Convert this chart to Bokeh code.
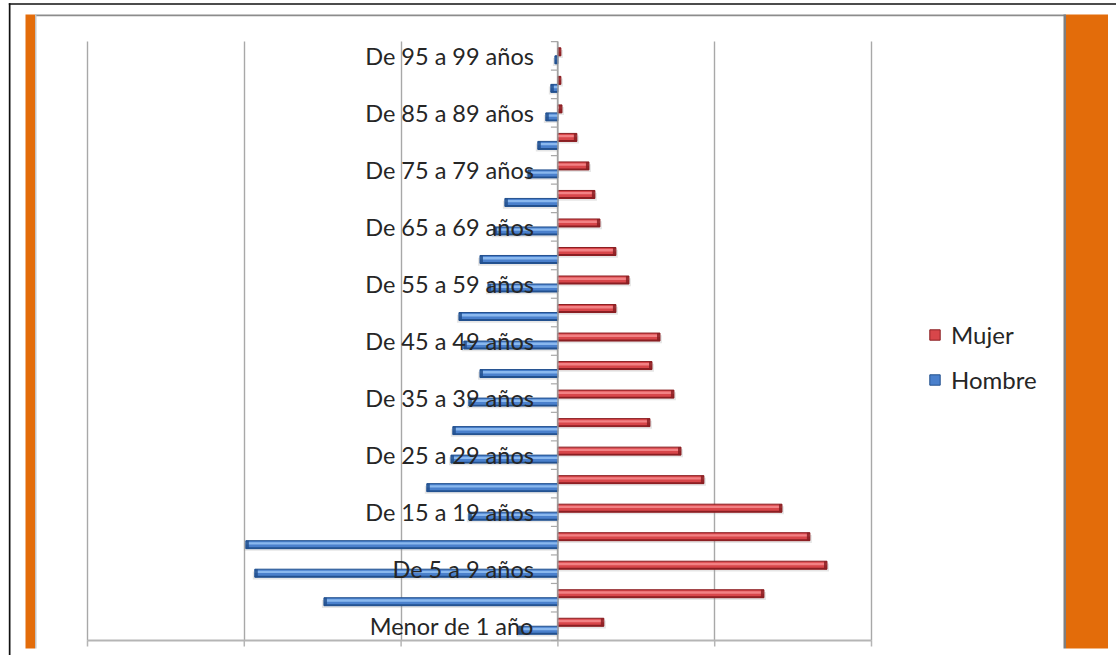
from bokeh.plotting import figure
from bokeh.models import (Range1d, FixedTicker, BoxAnnotation, Legend, LegendItem,
                          ColumnDataSource)
from bokeh.core.properties import value
from bokeh.embed import file_html
from bokeh.resources import INLINE

# ---------------- data ----------------
age_groups = ["Menor de 1 año", "De 1 a 4 años", "De 5 a 9 años", "De 10 a 14 años",
              "De 15 a 19 años", "De 20 a 24 años", "De 25 a 29 años", "De 30 a 34 años",
              "De 35 a 39 años", "De 40 a 44 años", "De 45 a 49 años", "De 50 a 54 años",
              "De 55 a 59 años", "De 60 a 64 años", "De 65 a 69 años", "De 70 a 74 años",
              "De 75 a 79 años", "De 80 a 84 años", "De 85 a 89 años", "De 90 a 94 años",
              "De 95 a 99 años"]
mujer = [293, 1314, 1716, 1607, 1429, 931, 785, 587, 740, 600, 651,
         370, 453, 370, 268, 236, 198, 121, 26, 19, 19]
hombre = [249, 1492, 1933, 1990, 568, 836, 682, 670, 568, 497, 600,
          631, 446, 497, 408, 338, 191, 128, 77, 45, 19]
x_ticks = [-3000, -2000, -1000, 0, 1000, 2000]
series_names = ["Mujer", "Hombre"]

# ---------------- geometry (canvas pixels) ----------------
W, H = 1116, 655
CX = 557.4            # canvas x of value 0
PX = 0.1568           # pixels per unit
BASE = 640            # canvas y of the category axis base
ROW = 28.52           # pixels per category


def dx(cx):
    return (cx - CX) / PX


def dy(cy):
    return (BASE - cy) / ROW


p = figure(width=W, height=H, output_backend="svg", toolbar_location=None,
           x_range=Range1d(dx(0), dx(W)), y_range=Range1d(dy(H), dy(0)),
           y_axis_location=None, x_axis_location=None,
           min_border_left=0, min_border_right=0, min_border_top=0, min_border_bottom=0)
p.outline_line_color = None
p.background_fill_color = "white"
p.border_fill_color = "white"

# vertical value grid
n = len(age_groups)
p.ygrid.visible = False
p.xgrid.ticker = FixedTicker(ticks=x_ticks)
p.xgrid.grid_line_color = "#a8a8a8"
p.xgrid.grid_line_width = 1.4
try:
    p.xgrid.cross_bounds = (0, n)
    grid_ok = True
except Exception:
    grid_ok = False
if not grid_ok:
    p.xgrid.visible = False
    p.segment(x0=x_ticks, x1=x_ticks, y0=[0] * len(x_ticks), y1=[n] * len(x_ticks),
              line_color="#a8a8a8", line_width=1.4)


# ---------------- decorations ----------------
def box(l, r, t, b, color):
    p.add_layout(BoxAnnotation(left=dx(l), right=dx(r), top=dy(t), bottom=dy(b),
                               fill_color=color, fill_alpha=1, line_color=None,
                               level="underlay"))


box(8.3, 10, 2.7, H, "#111111")       # black left border
box(8.3, W, 2.7, 4.3, "#111111")      # black top border
box(25, 34.5, 14, 648, "#e36c0a")     # left orange band
box(1065.5, 1107.5, 14, 648, "#e36c0a")  # right orange band
box(34.5, 1065.5, 14, 15.7, "#8c8c8c")   # panel top line
box(34.5, 36, 14, 648, "#c4c4c4")     # panel left line
box(1063, 1065.5, 14, 648, "#7f7f7f") # panel right line

# value axis at the bottom (line + outward ticks)
p.segment(x0=[min(x_ticks)], x1=[max(x_ticks)], y0=[0], y1=[0],
          line_color="#b5b5b5", line_width=2)
p.segment(x0=x_ticks, x1=x_ticks, y0=[0] * len(x_ticks), y1=[-6 / ROW] * len(x_ticks),
          line_color="#b5b5b5", line_width=1.5)

# ---------------- bars ----------------
BH = 0.28
cap = 3 / PX
sh = 2.2 / ROW
centers = [i + 0.5 for i in range(n)]
neg_h = [-v for v in hombre]
zeros = [0] * n

red = dict(base="#d8464a", hi="#f28184", dark="#8a1e22")
blue = dict(base="#4a80cc", hi="#8ab8ee", dark="#22508e")

ym = [c + BH / 2 for c in centers]
yh = [c - BH / 2 for c in centers]

# soft shadows
p.hbar(y=[y - sh for y in ym], left=zeros, right=[v + 2 / PX for v in mujer], height=BH,
       fill_color="#9a9a9a", fill_alpha=0.25, line_color=None)
p.hbar(y=[y - sh for y in yh], left=[v - 2 / PX for v in neg_h], right=zeros, height=BH,
       fill_color="#9a9a9a", fill_alpha=0.25, line_color=None)

src_m = ColumnDataSource(dict(y=ym, left=zeros, right=mujer))
src_h = ColumnDataSource(dict(y=yh, left=neg_h, right=zeros))
main_m = p.hbar(y="y", left="left", right="right", height=BH, source=src_m,
                fill_color=red["base"], line_color=red["dark"], line_width=1)
main_h = p.hbar(y="y", left="left", right="right", height=BH, source=src_h,
                fill_color=blue["base"], line_color=blue["dark"], line_width=1)

# highlight & dark edge stripes
for ys, lft, rgt, col in ((ym, zeros, mujer, red), (yh, neg_h, zeros, blue)):
    p.hbar(y=[y + BH * 0.16 for y in ys], left=lft, right=rgt, height=BH * 0.3,
           fill_color=col["hi"], line_color=None)
    p.hbar(y=[y - BH * 0.41 for y in ys], left=lft, right=rgt, height=BH * 0.18,
           fill_color=col["dark"], line_color=None)

# dark end caps
p.hbar(y=ym, left=[max(v - cap, 0) for v in mujer], right=mujer, height=BH,
       fill_color=red["dark"], fill_alpha=0.85, line_color=None)
p.hbar(y=yh, left=neg_h, right=[min(v + cap, 0) for v in neg_h], height=BH,
       fill_color=blue["dark"], fill_alpha=0.85, line_color=None)

# category axis at zero with boundary ticks
bounds = list(range(n + 1))
p.segment(x0=[0], x1=[0], y0=[0], y1=[n], line_color="#a0a0a0", line_width=1.3)
p.segment(x0=[-7 / PX] * len(bounds), x1=[0] * len(bounds), y0=bounds, y1=bounds,
          line_color="#a8a8a8", line_width=1.2)

# category labels (every other one, as in the original)
lab_y = [i + 0.5 for i in range(0, n, 2)]
lab_t = [age_groups[i] for i in range(0, n, 2)]
p.text(x=[0] * len(lab_y), y=lab_y, text=lab_t, x_offset=-24,
       text_align="right", text_baseline="middle", text_font=value("Lato"),
       text_font_size="23.5px", text_color="#262626")

# legend
legend = Legend(items=[LegendItem(label=series_names[0], renderers=[main_m]),
                       LegendItem(label=series_names[1], renderers=[main_h])],
                location=(928, 261), glyph_width=13, glyph_height=13,
                label_standoff=10, spacing=16, padding=0, margin=0,
                border_line_color=None, background_fill_alpha=0,
                label_text_font="Lato", label_text_font_size="24px",
                label_text_color="#262626")
p.add_layout(legend, "center")

open("out.html", "w").write(file_html(p, INLINE))
